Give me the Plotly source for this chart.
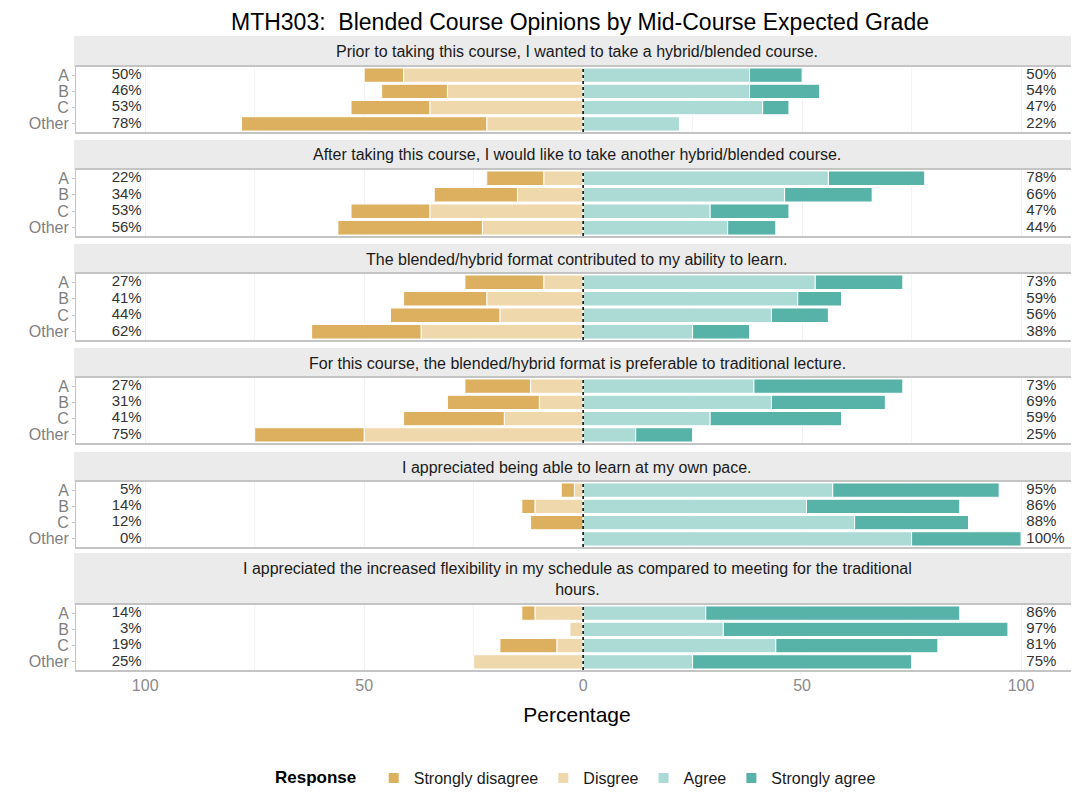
import plotly.graph_objects as go

## data
grades = ["A", "B", "C", "Other"]
questions = [
    "Prior to taking this course, I wanted to take a hybrid/blended course.",
    "After taking this course, I would like to take another hybrid/blended course.",
    "The blended/hybrid format contributed to my ability to learn.",
    "For this course, the blended/hybrid format is preferable to traditional lecture.",
    "I appreciated being able to learn at my own pace.",
    "I appreciated the increased flexibility in my schedule as compared to meeting for the traditional<br>hours.",
]
strongly_disagree = [
    [9, 15, 18, 56],
    [13, 19, 18, 33],
    [18, 19, 25, 25],
    [15, 21, 23, 25],
    [3, 3, 12, 0],
    [3, 0, 13, 0],
]
disagree = [
    [41, 31, 35, 22],
    [9, 15, 35, 23],
    [9, 22, 19, 37],
    [12, 10, 18, 50],
    [2, 11, 0, 0],
    [11, 3, 6, 25],
]
agree = [
    [38, 38, 41, 22],
    [56, 46, 29, 33],
    [53, 49, 43, 25],
    [39, 43, 29, 12],
    [57, 51, 62, 75],
    [28, 32, 44, 25],
]
strongly_agree = [
    [12, 16, 6, 0],
    [22, 20, 18, 11],
    [20, 10, 13, 13],
    [34, 26, 30, 13],
    [38, 35, 26, 25],
    [58, 65, 37, 50],
]
x_ticks = [-100, -50, 0, 50, 100]
x_ticklabels = ["100", "50", "0", "50", "100"]

## colours
col_sd = "#DDB05F"
col_d = "#EFD9AC"
col_a = "#ACDAD5"
col_sa = "#57B2A8"

## the page puts the plot 8px in from the top-left (body margin), so shrink to fit
OFF = 8
W, H = 1079 - OFF, 792 - OFF
# pixel positions as measured on the reference (top, bottom)
top_px, bot_px = 36, 670
panels = [(67, 132), (170, 236), (274, 340), (378, 443), (482, 547), (605, 670)]
strips = [(36, 67), (140, 170), (244, 274), (348, 378), (452, 482), (553, 605)]


def py(y):
    return (bot_px - y) / (bot_px - top_px)


fig = go.Figure()
font = "Liberation Sans, Arial, sans-serif"

for i in range(6):
    xa = "x" if i == 0 else f"x{i+1}"
    ya = "y" if i == 0 else f"y{i+1}"
    show = i == 0
    # negative side: disagree nearest zero, so it goes first
    fig.add_trace(go.Bar(y=grades, x=[-v for v in disagree[i]], orientation="h",
                         name="Disgree", marker=dict(color=col_d, line=dict(color="white", width=1)),
                         legendgroup="d", legendrank=2, showlegend=show, xaxis=xa, yaxis=ya))
    fig.add_trace(go.Bar(y=grades, x=[-v for v in strongly_disagree[i]], orientation="h",
                         name="Strongly disagree", marker=dict(color=col_sd, line=dict(color="white", width=1)),
                         legendgroup="sd", legendrank=1, showlegend=show, xaxis=xa, yaxis=ya))
    fig.add_trace(go.Bar(y=grades, x=agree[i], orientation="h",
                         name="Agree", marker=dict(color=col_a, line=dict(color="white", width=1)),
                         legendgroup="a", legendrank=3, showlegend=show, xaxis=xa, yaxis=ya))
    fig.add_trace(go.Bar(y=grades, x=strongly_agree[i], orientation="h",
                         name="Strongly agree", marker=dict(color=col_sa, line=dict(color="white", width=1)),
                         legendgroup="sa", legendrank=4, showlegend=show, xaxis=xa, yaxis=ya))

    left = [a + b for a, b in zip(strongly_disagree[i], disagree[i])]
    right = [a + b for a, b in zip(agree[i], strongly_agree[i])]
    fig.add_trace(go.Scatter(y=grades, x=[-100.8] * 4, mode="text", text=[f"{v}%" for v in left],
                             textposition="middle left", textfont=dict(size=15, color="#333333", family=font),
                             showlegend=False, cliponaxis=False, hoverinfo="skip", xaxis=xa, yaxis=ya))
    fig.add_trace(go.Scatter(y=grades, x=[101.2] * 4, mode="text", text=[f"{v}%" for v in right],
                             textposition="middle right", textfont=dict(size=15, color="#333333", family=font),
                             showlegend=False, cliponaxis=False, hoverinfo="skip", xaxis=xa, yaxis=ya))

    p_top, p_bot = panels[i]
    xkey = "xaxis" if i == 0 else f"xaxis{i+1}"
    ykey = "yaxis" if i == 0 else f"yaxis{i+1}"
    last = i == 5
    fig.update_layout(**{
        xkey: dict(domain=[0, 1], anchor=ya, range=[-115.8, 113], tickvals=x_ticks,
                   ticktext=x_ticklabels, showticklabels=last, zeroline=False,
                   showgrid=True, gridcolor="#f0f0f0", gridwidth=1,
                   minor=dict(tickvals=[-75, -25, 25, 75], showgrid=True, gridcolor="#f4f4f4"),
                   showline=True, linecolor="#c4c4c4", linewidth=2, mirror=True,
                   tickfont=dict(size=16, color="#8a8a8a", family=font), automargin=False,
                   title=dict(text="Percentage" if last else "", font=dict(size=21, color="black", family=font),
                              standoff=14),
                   matches="x" if i > 0 else None),
        ykey: dict(domain=[py(p_bot), py(p_top)], anchor=xa, categoryorder="array",
                   categoryarray=grades[::-1], tickmode="array", tickvals=grades, ticktext=grades,
                   showgrid=False, zeroline=False, automargin=False,
                   showline=True, linecolor="#c4c4c4", linewidth=1,
                   ticks="outside", ticklen=3, tickcolor="#c4c4c4",
                   tickfont=dict(size=16, color="#7f7f7f", family=font)),
    })

    # centre line
    fig.add_shape(type="line", x0=0, x1=0, y0=0, y1=1, xref=xa, yref=f"{ya} domain",
                  line=dict(color="black", width=1.5, dash="dot"), layer="above")

    # facet strip
    s_top, s_bot = strips[i]
    fig.add_shape(type="rect", xref="paper", yref="paper", x0=-0.002, x1=1,
                  y0=py(s_bot), y1=py(s_top), fillcolor="#ebebeb", line=dict(width=0), layer="below")
    fig.add_annotation(text=questions[i], xref="paper", yref="paper", x=0.5,
                       y=(py(s_bot) + py(s_top)) / 2, showarrow=False, yanchor="middle",
                       font=dict(size=16, color="#1a1a1a", family=font))

fig.update_layout(
    width=W, height=H,
    barmode="relative", bargap=0.12,
    margin=dict(l=76 - OFF, r=1, t=top_px - OFF, b=792 - bot_px, autoexpand=False),
    paper_bgcolor="white", plot_bgcolor="white",
    title=dict(text="MTH303:  Blended Course Opinions by Mid-Course Expected Grade",
               x=(580 - OFF) / W, xanchor="center", y=1 - (22 - OFF) / H, yanchor="middle",
               font=dict(size=23, color="black", family=font)),
    legend=dict(orientation="h", x=0.5, xanchor="center", y=py(778), yanchor="middle",
                title=dict(text="<b>Response</b>  ", side="left", font=dict(size=17, color="black", family=font)),
                font=dict(size=16, color="#1a1a1a", family=font), itemsizing="constant",
                traceorder="normal"),
)

fig.write_html("out.html")
